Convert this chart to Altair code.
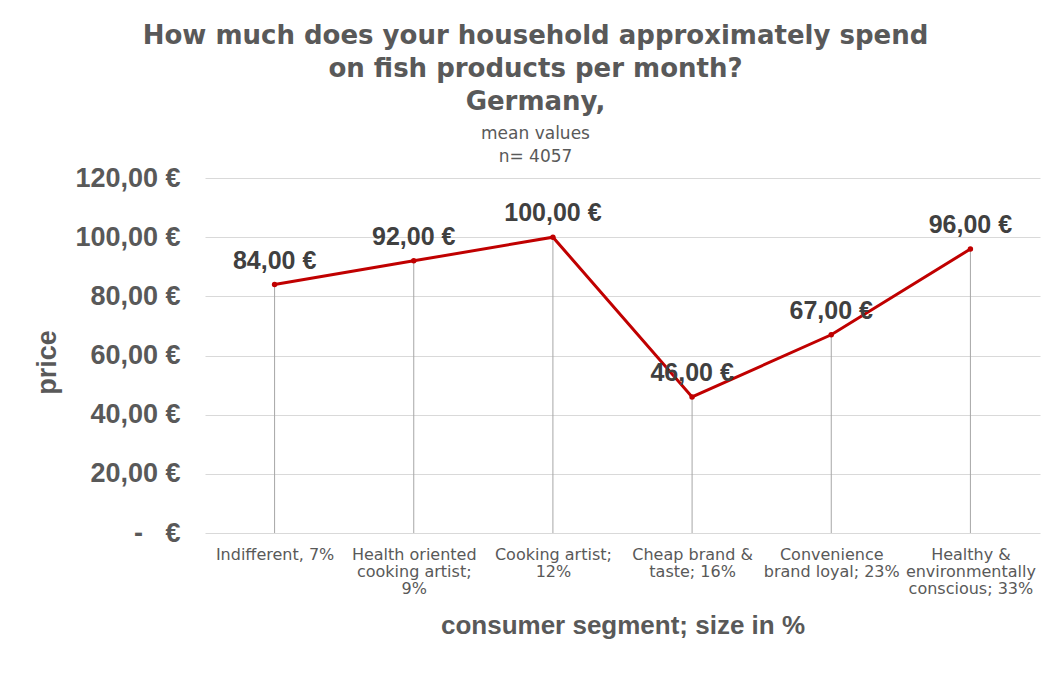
import altair as alt
import pandas as pd

# ---- data ----
SEGMENTS = [
    "Indifferent, 7%",
    "Health oriented\ncooking artist;\n9%",
    "Cooking artist;\n12%",
    "Cheap brand &\ntaste; 16%",
    "Convenience\nbrand loyal; 23%",
    "Healthy &\nenvironmentally\nconscious; 33%",
]
PRICES = [84, 92, 100, 46, 67, 96]
Y_TICKS = [0, 20, 40, 60, 80, 100, 120]
TITLE_LINES = [
    "How much does your household approximately spend",
    "on fish products per month?",
    "Germany,",
]
SUBTITLE_LINES = ["mean values", "n= 4057"]

df = pd.DataFrame({"segment": SEGMENTS, "price": PRICES})

GRAY = "#595959"
RED = "#C00000"

x_enc = alt.X(
    "segment:N",
    sort=SEGMENTS,
    scale=alt.Scale(type="point", padding=0.5),
    title="consumer segment; size in %",
    axis=alt.Axis(
        labelAngle=0,
        labelExpr="split(datum.label, '\\n')",
        labelFont="DejaVu Sans",
        labelFontSize=16,
        labelLineHeight=17,
        labelColor=GRAY,
        labelPadding=13,
        labelLimit=300,
        ticks=False,
        domain=False,
        grid=False,
        titleFont="Liberation Sans",
        titleFontSize=26,
        titleFontWeight="bold",
        titleColor=GRAY,
        titleY=92,
        titleBaseline="middle",
    ),
)

y_enc = alt.Y(
    "price:Q",
    scale=alt.Scale(domain=[0, 120]),
    title="price",
    axis=alt.Axis(
        values=Y_TICKS,
        labelExpr="datum.value == 0 ? '-\u00a0\u00a0\u00a0€' : replace(format(datum.value, '.2f'), '.', ',') + ' €'",
        labelFont="Liberation Sans",
        labelFontSize=27,
        labelFontWeight="bold",
        labelColor=GRAY,
        labelPadding=25,
        ticks=False,
        domain=False,
        gridColor="#d9d9d9",
        gridWidth=1,
        titleFont="Liberation Sans",
        titleFontSize=27,
        titleFontWeight="bold",
        titleColor=GRAY,
        titleX=-158,
        titleY=184,
        titleBaseline="middle",
    ),
)

base = alt.Chart(df)

drops = base.mark_rule(color="#a6a6a6", strokeWidth=1).encode(
    x=x_enc, y=y_enc, y2=alt.datum(0)
)
line = base.mark_line(color=RED, strokeWidth=3).encode(x=x_enc, y=y_enc)
points = base.mark_circle(color=RED, size=30, opacity=1).encode(x=x_enc, y=y_enc)
labels = (
    base.transform_calculate(
        label="replace(format(datum.price, '.2f'), '.', ',') + ' €'"
    )
    .mark_text(
        dy=-24,
        font="Liberation Sans",
        fontSize=25,
        fontWeight="bold",
        color="#404040",
        align="center",
        baseline="middle",
    )
    .encode(x=x_enc, y=y_enc, text="label:N")
)

chart = (
    alt.layer(drops, line, points, labels)
    .properties(
        width=835,
        height=355,
        background="white",
        padding={"left": 197, "top": 170, "right": 3, "bottom": 130},
        autosize=alt.AutoSizeParams(type="none"),
        title=alt.TitleParams(
            text=TITLE_LINES,
            subtitle=SUBTITLE_LINES,
            font="DejaVu Sans",
            fontSize=26,
            fontWeight="bold",
            color=GRAY,
            lineHeight=33,
            subtitleFont="DejaVu Sans",
            subtitleFontSize=17,
            subtitleColor=GRAY,
            subtitleLineHeight=23,
            subtitlePadding=11,
            anchor="middle",
            offset=-1,
            dx=-87,
        ),
    )
    .configure_view(strokeWidth=0, stroke=None)
)

chart.save("out.html", embed_options={"renderer": "svg", "actions": False})
